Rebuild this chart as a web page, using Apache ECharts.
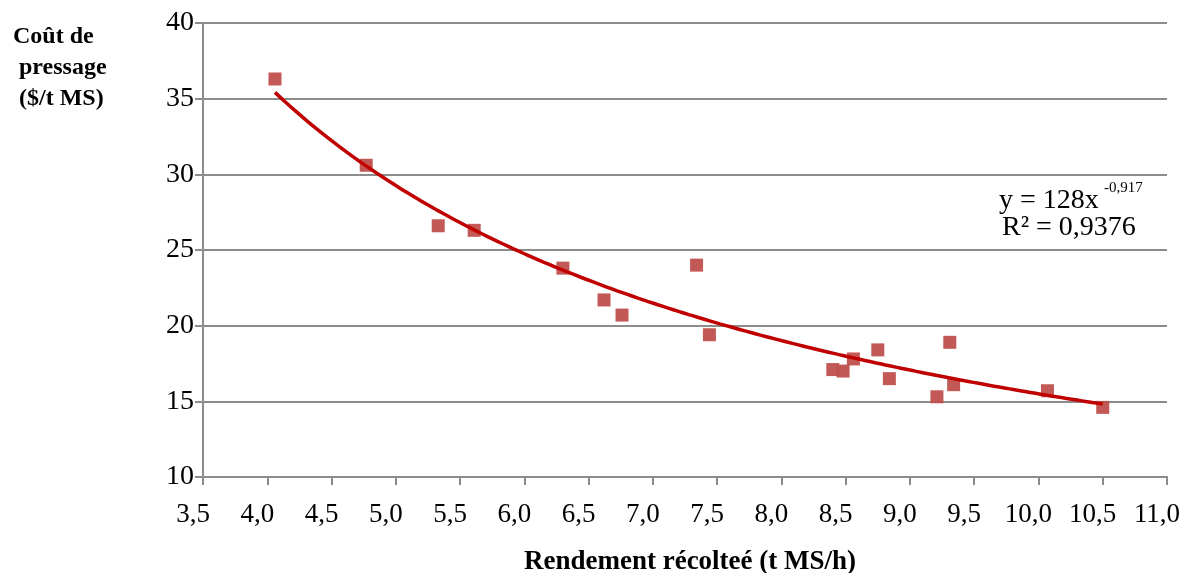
<!DOCTYPE html>
<html>
<head>
<meta charset="utf-8">
<script src="https://cdn.jsdelivr.net/npm/echarts@6/dist/echarts.min.js"></script>
<style>
  html, body { margin: 0; padding: 0; background: #ffffff; }
  #chart { width: 1187px; height: 573px; }
</style>
</head>
<body>
<div id="chart"></div>
<script>
// Rendement récolté (t MS/h) et coût de pressage ($/t MS) mesurés
const rendement = [4.06, 4.77, 5.33, 5.61, 6.30, 6.62, 6.76, 7.34, 7.44, 8.40, 8.48, 8.56, 8.75, 8.84, 9.21, 9.31, 9.34, 10.07, 10.50];
const cout      = [36.3, 30.6, 26.6, 26.3, 23.8, 21.7, 20.7, 24.0, 19.4, 17.1, 17.0, 17.8, 18.4, 16.5, 15.3, 18.9, 16.1, 15.7, 14.6];

// Courbe de tendance puissance : y = a·x^b
const trendA = 128;
const trendB = -0.917;
const trendR2 = '0,9376';

const points = rendement.map((x, i) => [x, cout[i]]);

const xMinData = Math.min(...rendement);
const xMaxData = Math.max(...rendement);
const trend = [];
const steps = 80;
for (let i = 0; i <= steps; i++) {
  const x = xMinData + (xMaxData - xMinData) * i / steps;
  trend.push([x, trendA * Math.pow(x, trendB)]);
}

const fmtComma = v => v.toFixed(1).replace('.', ',');
const serif = '"Liberation Serif", "DejaVu Serif", serif';
const gridGray = '#8c8c8c';

const chart = echarts.init(document.getElementById('chart'));
chart.setOption({
  animation: false,
  backgroundColor: '#ffffff',
  grid: { left: 203, right: 20, top: 23, bottom: 96, containLabel: false, outerBoundsMode: 'none' },
  xAxis: {
    type: 'value',
    min: 3.5, max: 11, interval: 0.5,
    name: 'Rendement récolteé (t MS/h)',
    nameLocation: 'middle',
    nameGap: 72,
    nameTextStyle: { fontFamily: serif, fontSize: 27, fontWeight: 'bold', color: '#000', padding: [0, 0, 0, 10] },
    axisLine: { show: true, lineStyle: { color: gridGray, width: 2 } },
    axisTick: { show: true, inside: false, length: 8, lineStyle: { color: gridGray, width: 2 } },
    axisLabel: { formatter: fmtComma, fontFamily: serif, fontSize: 27, color: '#000', margin: 24, padding: [0, 20, 0, 0] },
    splitLine: { show: false }
  },
  yAxis: {
    type: 'value',
    min: 10, max: 40, interval: 5,
    axisLine: { show: true, lineStyle: { color: gridGray, width: 2 } },
    axisTick: { show: true, inside: false, length: 8, lineStyle: { color: gridGray, width: 2 } },
    axisLabel: { fontFamily: serif, fontSize: 28, color: '#000', margin: 9 },
    splitLine: { show: true, lineStyle: { color: gridGray, width: 2 } }
  },
  graphic: [
    {
      type: 'text', x: 13, y: 21,
      style: {
        text: 'Coût de\n pressage\n ($/t MS)',
        font: 'bold 24px ' + serif,
        fill: '#000', align: 'left', lineHeight: 31
      }
    },
    {
      type: 'text', x: 999, y: 201,
      style: { text: 'y = ' + trendA + 'x', font: '28px ' + serif, fill: '#000', verticalAlign: 'middle' }
    },
    {
      type: 'text', x: 1104, y: 188,
      style: { text: String(trendB).replace('.', ','), font: '15px ' + serif, fill: '#000', verticalAlign: 'middle' }
    },
    {
      type: 'text', x: 1002, y: 228,
      style: { text: 'R² = ' + trendR2, font: '28px ' + serif, fill: '#000', verticalAlign: 'middle' }
    }
  ],
  series: [
    {
      type: 'scatter',
      data: points,
      symbol: 'rect',
      symbolSize: 13,
      itemStyle: { color: '#c0504d', opacity: 0.95 },
      z: 2
    },
    {
      type: 'line',
      data: trend,
      showSymbol: false,
      smooth: true,
      lineStyle: { color: '#c00000', width: 3.5 },
      z: 3
    }
  ]
});
</script>
</body>
</html>
